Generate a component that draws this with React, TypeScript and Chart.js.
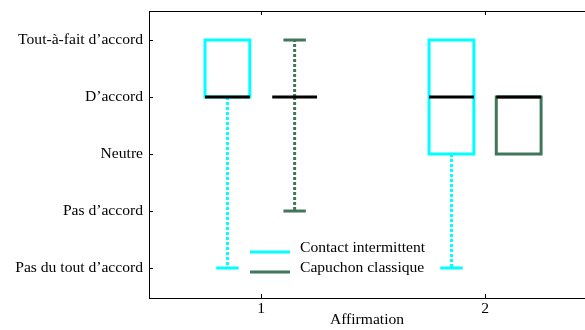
import React, { useEffect, useRef } from 'react';
import { Chart, registerables } from 'chart.js';

Chart.register(...registerables);

const categories = [1, 2];
const categoryLabels = ['1', '2'];
const levelLabels = ['Pas du tout d’accord', 'Pas d’accord', 'Neutre', 'D’accord', 'Tout-à-fait d’accord'];
const seriesNames = ['Contact intermittent', 'Capuchon classique'];
const seriesColors = ['#00ffff', '#41765b'];
const seriesOffsets = [-0.15, 0.15];

const contactMin = [1, 1];
const contactQ1 = [4, 3];
const contactMedian = [4, 4];
const contactQ3 = [5, 5];
const contactMax = [5, 5];

const capuchonMin = [2, 3];
const capuchonQ1 = [4, 3];
const capuchonMedian = [4, 4];
const capuchonQ3 = [4, 4];
const capuchonMax = [5, 4];

const seriesStats = [
  { min: contactMin, q1: contactQ1, med: contactMedian, q3: contactQ3, max: contactMax },
  { min: capuchonMin, q1: capuchonQ1, med: capuchonMedian, q3: capuchonQ3, max: capuchonMax },
];

const FONT = 'Liberation Serif';
const FS = 15.6;
const BOX_W = 0.2;
const CAP_W = 0.1;

const boxPlugin = {
  id: 'boxPlugin',
  afterDatasetsDraw(chart: any) {
    const ctx = chart.ctx;
    const xs = chart.scales.x;
    const ys = chart.scales.y;
    const area = chart.chartArea;
    ctx.save();
    ctx.beginPath();
    ctx.rect(area.left - 2, area.top - 2, area.right - area.left + 4, area.bottom - area.top + 4);
    ctx.clip();
    seriesStats.forEach((s, si) => {
      const color = seriesColors[si];
      categories.forEach((c, ci) => {
        const xc = xs.getPixelForValue(c + seriesOffsets[si]);
        const xl = xs.getPixelForValue(c + seriesOffsets[si] - BOX_W / 2);
        const xr = xs.getPixelForValue(c + seriesOffsets[si] + BOX_W / 2);
        const cl = xs.getPixelForValue(c + seriesOffsets[si] - CAP_W / 2);
        const cr = xs.getPixelForValue(c + seriesOffsets[si] + CAP_W / 2);
        const yMin = ys.getPixelForValue(s.min[ci]);
        const yQ1 = ys.getPixelForValue(s.q1[ci]);
        const yMed = ys.getPixelForValue(s.med[ci]);
        const yQ3 = ys.getPixelForValue(s.q3[ci]);
        const yMax = ys.getPixelForValue(s.max[ci]);
        ctx.strokeStyle = color;
        ctx.lineWidth = 3;
        ctx.lineCap = 'butt';
        ctx.setLineDash([3, 2]);
        if (s.min[ci] < s.q1[ci]) {
          ctx.beginPath();
          ctx.moveTo(xc, yQ1);
          ctx.lineTo(xc, yMin);
          ctx.stroke();
        }
        if (s.max[ci] > s.q3[ci]) {
          ctx.beginPath();
          ctx.moveTo(xc, yQ3);
          ctx.lineTo(xc, yMax);
          ctx.stroke();
        }
        ctx.setLineDash([]);
        if (s.min[ci] < s.q1[ci]) {
          ctx.beginPath();
          ctx.moveTo(cl, yMin);
          ctx.lineTo(cr, yMin);
          ctx.stroke();
        }
        if (s.max[ci] > s.q3[ci]) {
          ctx.beginPath();
          ctx.moveTo(cl, yMax);
          ctx.lineTo(cr, yMax);
          ctx.stroke();
        }
        if (s.q3[ci] > s.q1[ci]) {
          ctx.strokeRect(xl, yQ3, xr - xl, yQ1 - yQ3);
        }
        ctx.strokeStyle = '#000000';
        ctx.beginPath();
        ctx.moveTo(xl, yMed);
        ctx.lineTo(xr, yMed);
        ctx.stroke();
      });
    });
    ctx.restore();

    ctx.save();
    ctx.strokeStyle = '#000000';
    ctx.lineWidth = 1;
    ctx.beginPath();
    ctx.moveTo(area.left, area.top + 0.5);
    ctx.lineTo(area.right, area.top + 0.5);
    ctx.stroke();
    ys.ticks.forEach((t: any) => {
      const y = Math.round(ys.getPixelForValue(t.value)) + 0.5;
      ctx.beginPath();
      ctx.moveTo(area.left, y);
      ctx.lineTo(area.left + 4, y);
      ctx.stroke();
    });
    xs.ticks.forEach((t: any) => {
      const x = Math.round(xs.getPixelForValue(t.value)) + 0.5;
      ctx.beginPath();
      ctx.moveTo(x, area.bottom);
      ctx.lineTo(x, area.bottom - 4);
      ctx.moveTo(x, area.top);
      ctx.lineTo(x, area.top + 4);
      ctx.stroke();
    });

    const lx0 = area.left + 101;
    const lx1 = lx0 + 40;
    const ly0 = area.bottom - 46;
    ctx.font = `${FS}px "${FONT}"`;
    ctx.textBaseline = 'middle';
    ctx.textAlign = 'left';
    seriesNames.forEach((name, i) => {
      const y = ly0 + i * 20;
      ctx.strokeStyle = seriesColors[i];
      ctx.lineWidth = 3;
      ctx.beginPath();
      ctx.moveTo(lx0, y);
      ctx.lineTo(lx1, y);
      ctx.stroke();
      ctx.fillStyle = '#000000';
      ctx.fillText(name, lx1 + 10, y - 4);
    });
    ctx.restore();
  },
};

export default function App() {
  const ref = useRef<HTMLCanvasElement>(null);
  useEffect(() => {
    document.body.style.margin = '0';
    const chart = new Chart(ref.current as HTMLCanvasElement, {
      type: 'line',
      data: {
        datasets: seriesNames.map((n, i) => ({
          label: n,
          data: categories.map((c, ci) => ({ x: c + seriesOffsets[i], y: seriesStats[i].med[ci] })),
          showLine: false,
          pointRadius: 0,
          borderColor: seriesColors[i],
        })),
      },
      options: {
        animation: false,
        responsive: false,
        devicePixelRatio: 1,
        layout: { padding: { top: 11, right: 0, left: 0, bottom: 0 } },
        plugins: { legend: { display: false }, tooltip: { enabled: false } },
        scales: {
          x: {
            type: 'linear',
            min: 0.5,
            max: 2.446,
            afterBuildTicks: (axis: any) => {
              axis.ticks = categories.map((v) => ({ value: v }));
            },
            afterFit: (axis: any) => {
              axis.height = 32;
              axis.paddingLeft = 0;
              axis.paddingRight = 0;
            },
            grid: { display: false, drawTicks: false },
            border: { display: true, color: '#000000', width: 1 },
            ticks: {
              color: '#000000',
              font: { family: FONT, size: FS },
              padding: 2,
              maxRotation: 0,
              callback: (v: any) => categoryLabels[categories.indexOf(Number(v))] ?? '',
            },
            title: {
              display: true,
              text: 'Affirmation',
              color: '#000000',
              font: { family: FONT, size: FS },
              padding: { top: 0, bottom: 1 },
            },
          },
          y: {
            type: 'linear',
            min: 0.474,
            max: 5.509,
            afterBuildTicks: (axis: any) => {
              axis.ticks = levelLabels.map((_, i) => ({ value: i + 1 }));
            },
            afterFit: (axis: any) => {
              axis.width = 149;
              axis.paddingTop = 0;
              axis.paddingBottom = 0;
            },
            grid: { display: false, drawTicks: false },
            border: { display: true, color: '#000000', width: 1 },
            ticks: {
              color: '#000000',
              font: { family: FONT, size: FS },
              padding: 6,
              callback: (v: any) => levelLabels[Number(v) - 1] ?? '',
            },
          },
        },
      },
      plugins: [boxPlugin],
    } as any);
    return () => chart.destroy();
  }, []);
  return (
    <div style={{ width: 585, height: 330 }}>
      <canvas ref={ref} width={585} height={330} />
    </div>
  );
}
